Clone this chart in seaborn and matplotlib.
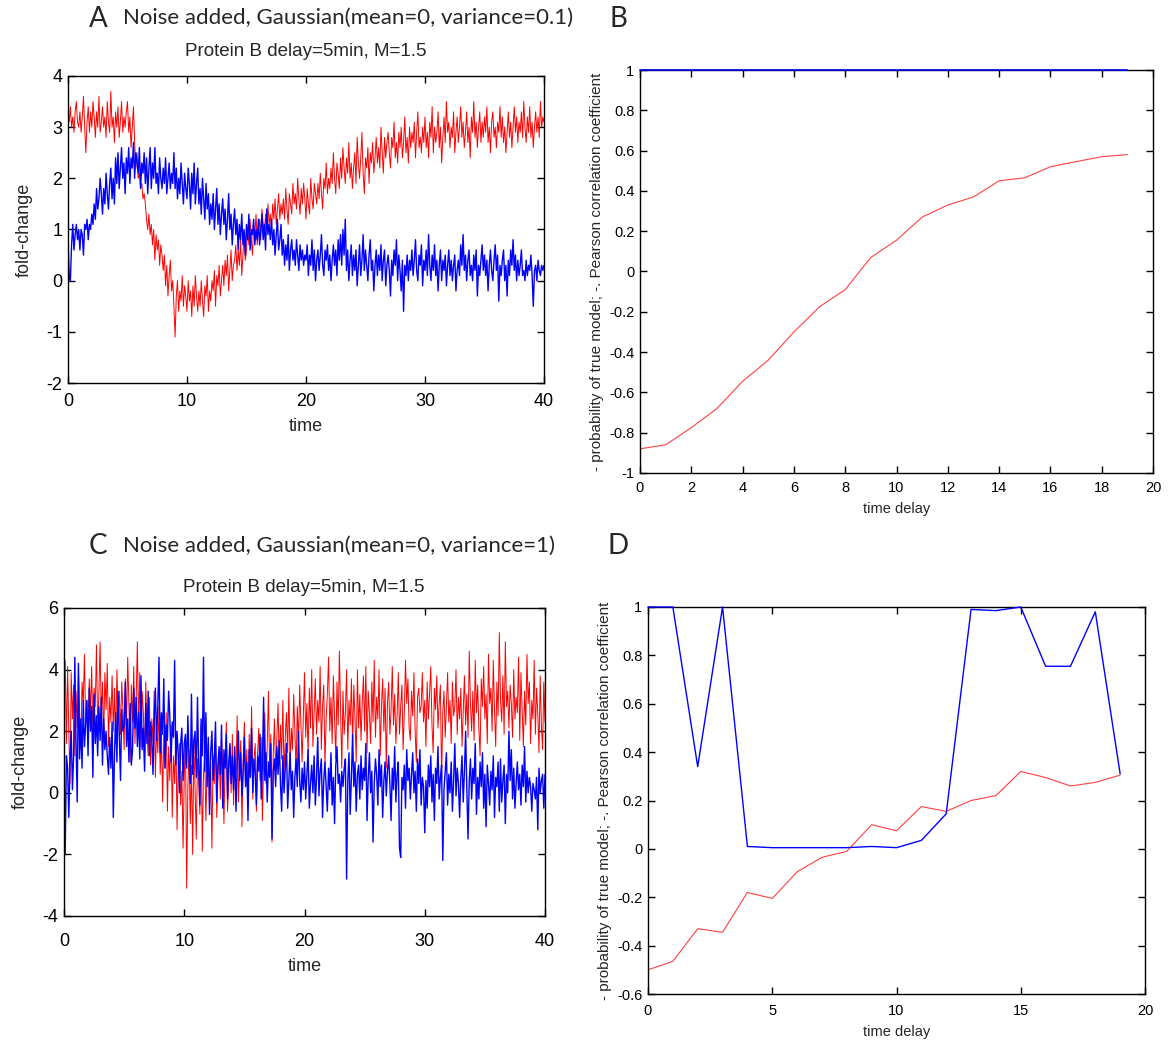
import numpy as np
import pandas as pd
import matplotlib
matplotlib.use("Agg")
import matplotlib.pyplot as plt
from matplotlib.ticker import FuncFormatter, MultipleLocator
import seaborn as sns

# ---------------------------------------------------------------- data
# sampling grid of the simulated time courses (0 .. 40, step 0.1)
time = np.round(np.arange(401) * 0.1, 1)

# low-noise run (variance 0.1): protein A (red) and protein B (blue)
red_low = [
    3.3, 3.1, 3.4, 3.0, 3.2, 2.9, 3.3, 3.5, 3.1, 3.0,
    3.3, 2.9, 3.2, 3.6, 3.0, 2.5, 3.1, 3.4, 2.9, 3.3,
    3.0, 3.5, 3.2, 2.8, 3.3, 3.0, 3.6, 2.9, 3.1, 3.4,
    3.0, 3.2, 2.8, 3.5, 3.1, 2.9, 3.7, 3.0, 3.2, 2.7,
    3.3, 3.0, 3.4, 2.8, 3.1, 3.5, 2.9, 3.2, 3.0, 3.3,
    3.5, 2.9, 3.2, 2.6, 3.0, 3.4, 2.7, 2.2, 2.5, 2.0,
    2.1, 1.8, 1.9, 1.6, 1.7, 1.5, 1.2, 1.0, 1.3, 0.9,
    1.1, 0.7, 1.0, 0.4, 0.9, 0.6, 0.8, 0.3, 0.7, 0.5,
    0.2, 0.5, -0.1, 0.3, -0.3, 0.1, 0.4, -0.2, 0.0, -0.5,
    -1.1, -0.3, 0.0, -0.6, -0.2, -0.4, 0.1, -0.5, -0.1, -0.3,
    -0.6, 0.0, -0.4, -0.2, -0.7, -0.1, -0.5, 0.1, -0.3, -0.6,
    -0.2, -0.5, 0.0, -0.4, -0.7, -0.1, -0.3, 0.1, -0.6, -0.2,
    -0.4, 0.0, -0.2, 0.2, -0.5, 0.1, -0.1, 0.3, -0.3, 0.0,
    0.3, -0.1, 0.4, 0.1, 0.5, -0.2, 0.2, 0.6, 0.0, 0.3,
    0.4, 0.7, 0.2, 0.6, 0.3, 0.8, 0.1, 0.5, 0.9, 0.4,
    0.6, 1.0, 0.7, 1.2, 0.8, 0.5, 1.1, 0.9, 1.3, 0.7,
    1.0, 1.2, 0.8, 1.4, 1.1, 0.9, 1.3, 1.0, 1.5, 1.1,
    1.3, 1.0, 1.5, 1.2, 1.6, 1.1, 1.4, 1.7, 1.2, 1.5,
    1.3, 1.6, 1.2, 1.8, 1.4, 1.1, 1.7, 1.5, 1.3, 1.9,
    1.5, 1.7, 1.4, 2.0, 1.6, 1.3, 1.8, 1.5, 1.9, 1.6,
    1.2, 1.8, 1.5, 1.3, 2.0, 1.6, 1.4, 1.9, 1.7, 1.5,
    1.9, 1.6, 2.1, 1.7, 1.4, 2.0, 1.8, 2.3, 1.7, 2.0,
    1.8, 2.2, 1.9, 2.5, 2.0, 1.7, 2.3, 2.1, 1.8, 2.4,
    2.0, 2.6, 2.2, 1.9, 2.4, 2.1, 2.7, 2.0, 2.3, 1.8,
    2.2, 2.5, 1.9, 2.8, 2.3, 2.0, 2.4, 2.9, 2.1, 1.7,
    2.4, 2.2, 2.6, 1.9, 2.5, 2.3, 2.7, 2.1, 2.4, 2.8,
    2.3, 2.6, 2.2, 3.0, 2.5, 2.1, 2.8, 2.4, 2.7, 2.9,
    2.5, 2.2, 2.8, 2.6, 3.1, 2.4, 2.7, 2.3, 2.9, 2.6,
    3.0, 2.4, 2.7, 3.2, 2.5, 2.8, 2.3, 3.0, 2.6, 2.9,
    2.7, 3.1, 2.4, 2.9, 3.3, 2.6, 2.8, 2.5, 3.0, 2.7,
    3.2, 2.6, 2.9, 2.4, 3.1, 2.8, 3.4, 2.5, 3.0, 2.7,
    2.9, 3.3, 2.6, 3.0, 2.3, 2.8, 3.2, 2.7, 3.5, 2.9,
    3.1, 2.6, 3.0, 2.8, 3.3, 2.5, 2.9, 3.2, 2.7, 3.0,
    3.4, 2.8, 3.1, 2.6, 2.9, 3.3, 2.7, 3.0, 2.4, 3.2,
    2.9, 3.5, 2.8, 3.1, 2.6, 3.0, 3.3, 2.7, 3.1, 2.8,
    3.2, 2.9, 3.4, 2.7, 3.0, 2.5, 3.1, 3.3, 2.8, 3.0,
    2.6, 3.1, 2.9, 3.4, 2.8, 3.2, 2.7, 3.0, 2.5, 2.9,
    3.3, 2.8, 3.1, 2.6, 3.0, 3.4, 2.9, 3.2, 2.7, 3.1,
    2.9, 3.3, 2.8, 3.5, 3.0, 2.7, 3.2, 2.9, 3.4, 2.8,
    3.1, 2.6, 3.0, 3.3, 2.9, 3.2, 2.8, 3.5, 3.0, 3.2,
    3.1,
]
blue_low = [
    0.8, 0.1, 0.0, 0.7, 1.1, 0.6, 0.9, 1.1, 0.8, 1.0,
    0.6, 1.0, 0.9, 0.5, 1.1, 1.0, 1.2, 0.8, 1.1, 1.0,
    1.3, 1.1, 1.5, 1.2, 1.8, 1.4, 1.6, 2.0, 1.7, 1.3,
    1.8, 1.5, 2.1, 1.7, 1.4, 1.9, 2.2, 1.6, 2.0, 1.5,
    2.4, 1.9, 2.5, 1.8, 2.2, 2.6, 2.0, 2.3, 1.7, 2.4,
    2.1, 2.6, 1.9, 2.4, 2.2, 2.7, 2.0, 2.5, 2.3, 2.1,
    2.6, 1.8, 2.3, 2.1, 2.5, 1.9, 2.4, 1.7, 2.2, 2.6,
    1.8, 2.3, 2.0, 2.6, 1.9, 2.1, 1.7, 2.4, 2.0, 1.8,
    2.2, 1.9, 2.4, 1.7, 2.0, 2.3, 1.8, 2.1, 1.9, 2.5,
    1.8, 2.2, 1.6, 2.0, 1.7, 2.3, 1.9, 1.5, 2.1, 1.8,
    1.6, 2.2, 1.9, 1.4, 2.1, 1.7, 2.3, 1.5, 1.9, 2.2,
    1.5, 1.8, 1.3, 2.0, 1.6, 1.2, 1.9, 1.4, 1.7, 1.1,
    1.5, 1.2, 1.7, 1.0, 1.4, 1.8, 1.1, 1.5, 0.9, 1.3,
    1.6, 1.1, 1.4, 0.8, 1.2, 1.7, 1.0, 1.3, 0.7, 1.1,
    1.4, 0.9, 1.2, 0.6, 1.1, 0.8, 1.3, 0.7, 1.0, 0.5,
    1.1, 0.8, 1.3, 0.6, 1.0, 0.9, 1.2, 0.7, 1.0, 0.8,
    1.2, 0.7, 1.0, 1.3, 0.8, 1.1, 0.6, 1.4, 0.9, 1.1,
    0.8, 1.2, 0.7, 1.0, 0.5, 0.9, 1.2, 0.6, 0.8, 1.1,
    0.5, 0.8, 0.3, 0.7, 0.4, 0.9, 0.2, 0.6, 0.8, 0.4,
    0.6, 0.3, 0.8, 0.5, 0.2, 0.7, 0.4, 0.6, 0.3, 0.5,
    0.4, 0.7, 0.1, 0.5, 0.3, 0.8, 0.2, 0.6, 0.0, 0.4,
    0.6, 0.2, 0.5, 0.9, 0.3, 0.1, 0.6, 0.4, 0.7, 0.2,
    0.5, 0.0, 0.4, 0.7, 0.3, 0.6, 0.1, 0.8, 0.4, 0.9,
    0.3, 1.0, 0.5, 1.2, 0.2, 0.6, 0.0, 0.4, 0.7, 0.1,
    0.5, 0.2, 0.6, -0.1, 0.3, 0.7, 0.1, 0.4, 0.9, 0.2,
    0.6, 0.3, 0.0, 0.5, 0.8, 0.2, 0.4, -0.2, 0.3, 0.6,
    0.1, 0.5, 0.2, 0.7, 0.0, 0.4, 0.6, -0.1, 0.3, 0.5,
    0.2, -0.3, 0.4, 0.1, 0.6, 0.3, 0.8, 0.0, 0.5, 0.2,
    -0.2, 0.4, -0.6, 0.3, 0.1, 0.5, 0.0, 0.4, 0.2, 0.6,
    0.1, 0.4, 0.8, 0.2, 0.0, 0.5, 0.3, 0.7, -0.1, 0.4,
    0.2, 0.6, 0.1, 0.9, 0.3, 0.0, 0.5, 0.2, 0.7, 0.1,
    0.4, -0.2, 0.3, 0.6, 0.0, 0.4, 0.2, 0.5, -0.1, 0.3,
    0.6, 0.1, 0.4, 0.0, 0.3, 0.5, -0.2, 0.2, 0.4, 0.1,
    0.7, 0.3, 0.9, 0.2, 0.5, 0.0, 0.4, 0.6, 0.1, 0.3,
    0.0, 0.5, 0.2, 0.6, -0.3, 0.3, 0.1, 0.4, 0.7, 0.2,
    0.5, 0.1, 0.4, -0.2, 0.3, 0.6, 0.2, 0.0, 0.4, 0.7,
    0.2, 0.5, -0.4, 0.3, 0.1, 0.4, 0.6, 0.0, 0.3, -0.3,
    0.4, 0.1, 0.6, 0.3, 0.8, 0.2, 0.5, 0.0, 0.4, 0.1,
    0.3, 0.6, 0.1, 0.2, 0.0, 0.4, 0.1, 0.3, 0.2, 0.5,
    0.1, -0.5, 0.2, 0.3, 0.0, 0.4, 0.2, 0.1, 0.3, 0.2,
    0.3,
]

# high-noise run (variance 1)
red_high = [
    3.2, 4.3, 1.6, 4.1, 2.0, 0.3, 3.9, 2.4, 3.5, 1.2,
    3.3, 2.1, 4.0, 2.6, 1.4, 3.6, 2.9, 4.5, 2.2, 3.0,
    1.8, 3.7, 2.5, 4.1, 1.9, 3.4, 2.8, 4.8, 2.0, 3.2,
    4.9, 2.4, 3.6, 1.7, 3.9, 2.7, 4.2, 1.5, 3.1, 2.3,
    3.8, 2.0, 3.4, 1.6, 4.0, 2.5, 3.3, 1.9, 3.6, 2.7,
    1.4, 3.7, 2.2, 4.4, 2.8, 1.0, 3.5, 2.3, 4.1, 1.6,
    3.0, 4.9, 2.1, 3.9, 1.5, 3.3, 2.6, 0.8, 3.6, 2.0,
    1.2, 3.1, 0.9, 2.4, 1.7, 3.3, 0.5, 2.2, 1.3, 2.8,
    0.6, 2.0, -0.3, 1.9, 0.8, 2.6, -0.6, 1.5, 0.4, 2.2,
    -0.8, 1.2, 0.3, 2.0, -1.2, 0.9, 1.6, -0.4, 0.7, -1.8,
    0.5, 1.8, -3.1, 0.2, 1.4, -1.0, 0.9, -2.0, 1.7, 0.1,
    -1.5, 1.1, 0.4, -0.7, 2.2, -1.9, 0.6, 1.3, -0.9, 0.8,
    1.6, -0.5, 0.9, -1.8, 1.2, 0.3, 2.0, -0.8, 0.5, 1.4,
    -0.2, 1.8, 0.7, -1.0, 1.1, 2.3, -0.6, 0.4, 1.5, 0.0,
    1.9, -0.4, 1.2, 0.6, 2.5, -0.3, 0.8, 1.7, -1.1, 1.0,
    2.3, 0.2, 1.4, -0.5, 1.9, 0.7, 2.8, -0.2, 1.1, 1.6,
    -0.6, 1.3, 2.1, 0.4, 1.8, -0.9, 1.0, 2.6, 0.3, 1.5,
    3.3, 0.8, 1.9, -1.6, 1.2, 2.4, 0.6, 1.7, 2.9, 0.9,
    2.2, 1.1, 3.0, 0.5, 1.8, 2.6, 1.3, 3.4, 0.9, 2.1,
    1.4, 3.2, 2.0, 0.7, 2.8, 1.6, 3.5, 2.3, 1.0, 2.5,
    3.9, 1.8, 2.9, 1.2, 3.4, 2.1, 4.0, 1.5, 2.6, 3.7,
    1.9, 3.0, 2.3, 4.1, 1.4, 2.8, 3.5, 0.9, 2.4, 3.2,
    4.4, 2.0, 3.1, 1.6, 3.8, 2.5, 1.1, 3.6, 2.2, 4.6,
    2.7, 0.8, 3.3, 1.9, 2.6, 4.0, 1.4, 3.0, 2.2, 3.7,
    1.5, 3.5, 2.4, 1.0, 4.0, 2.1, 3.2, 1.7, 2.9, 3.8,
    2.0, 4.1, 1.3, 3.3, 2.6, 1.6, 3.6, 2.3, 4.3, 1.8,
    3.1, 2.4, 4.0, 1.2, 2.8, 3.7, 2.0, 3.4, 0.8, 2.9,
    3.6, 1.9, 2.7, 4.1, 2.2, 3.2, 1.6, 2.5, 3.9, 1.9,
    2.8, 3.5, 1.4, 2.6, 4.3, 2.9, 3.7, 2.1, 1.7, 3.3,
    2.5, 3.9, 2.0, 1.0, 3.1, 3.4, 2.6, 2.8, 3.9, 2.3,
    3.0, 1.5, 3.6, 2.4, 3.2, 4.1, 2.2, 1.3, 3.4, 2.7,
    3.8, 2.1, 2.9, 3.5, 0.4, 2.6, 3.3, 1.8, 2.8, 3.9,
    2.3, 3.0, 1.6, 3.6, 2.5, 2.8, 4.0, 1.9, 3.1, 2.4,
    3.4, 1.5, 2.7, 3.8, 2.2, 3.2, 1.8, 4.6, 2.9, 2.0,
    3.3, 1.7, 4.3, 2.6, 3.5, 2.1, 1.2, 3.7, 2.8, 4.1,
    2.4, 3.2, 1.6, 4.5, 2.9, 3.4, 2.0, 4.3, 2.7, 1.5,
    3.6, 2.5, 5.2, 3.0, 2.3, 3.8, 1.9, 4.9, 2.8, 3.3,
    2.1, 3.5, 2.9, 1.8, 4.0, 2.4, 3.1, 2.6, 4.4, 1.7,
    3.9, 2.7, 1.5, 3.3, 2.2, 4.5, 2.9, 3.6, 1.6, 3.0,
    2.4, 4.3, 1.9, 3.4, 2.6, 1.3, 3.8, 2.2, 1.4, 3.6,
    2.3,
]
blue_high = [
    1.5, -2.0, 1.2, 0.8, -0.8, 1.0, 2.0, 0.1, 1.2, 4.4,
    1.6, -0.3, 4.2, 1.1, 2.4, 0.8, 3.0, 1.5, 2.2, 3.0,
    1.2, 3.4, 2.0, 2.8, 0.5, 3.2, 1.6, 2.5, 1.2, 2.8,
    1.7, 3.1, 0.9, 2.4, 1.4, 2.0, 1.2, 0.6, 1.8, 0.8,
    2.3, -0.8, 1.3, 2.6, 1.0, 3.3, 1.8, 0.4, 2.7, 2.0,
    2.2, 3.6, 1.5, 2.4, 1.0, 2.9, 0.9, 1.4, 3.4, 2.1,
    3.1, 1.5, 2.6, 1.1, 3.8, 1.4, 2.1, 0.7, 2.9, 1.6,
    3.3, 1.2, 2.3, 1.8, 0.6, 2.4, 3.4, 1.7, 2.8, 4.4,
    1.3, 2.6, 1.9, 3.7, 0.8, 2.2, 1.7, 3.3, 2.5, 1.0,
    2.3, 1.8, 4.3, 0.9, 2.0, 1.2, 0.0, 1.6, 2.1, 0.4,
    1.6, 1.9, 0.8, 2.5, 1.1, 0.3, 3.2, 0.6, 1.7, 2.0,
    0.5, 3.1, 1.0, -0.4, 2.4, 1.2, 4.4, 0.7, 2.6, 0.2,
    1.8, -0.7, 1.3, 2.0, 0.4, 1.1, 2.3, -0.3, 0.9, 1.5,
    0.6, 2.2, -0.5, 1.4, 0.8, 1.9, -0.2, 1.0, 1.6, 0.3,
    1.2, 0.1, 1.5, -0.6, 0.9, 2.0, 0.4, 1.3, -0.1, 0.7,
    1.8, 0.2, 1.0, -0.9, 1.4, 0.5, 2.1, 0.0, 1.1, 0.6,
    -0.4, 1.2, 0.7, 1.9, -0.2, 0.9, 3.1, 0.4, 1.3, -0.3,
    1.0, 0.5, 1.6, -1.5, 0.7, 1.1, 0.2, 1.5, 0.6, 1.7,
    0.3, -0.6, 1.2, 0.0, 0.8, 1.6, -0.5, 0.4, 1.3, 0.1,
    0.7, -0.8, 0.5, 1.1, 0.2, 2.0, 0.4, -0.3, 0.8, 0.1,
    1.0, -0.2, 0.6, 1.4, -0.5, 0.3, 0.9, 0.0, 1.2, -0.4,
    0.5, 1.8, -0.1, 0.7, 1.1, -0.8, 0.4, 1.0, 0.2, -0.6,
    0.8, 0.1, 1.3, -0.4, 0.5, -1.0, 0.9, 1.5, 0.3, 0.6,
    -0.3, 0.7, 0.2, 0.8, 1.1, -2.8, 0.4, 1.3, -0.7, 0.5,
    1.9, 0.2, 1.0, -0.6, 0.6, 0.9, -0.2, 1.2, 0.1, 0.8,
    0.4, 1.6, -0.9, 0.5, 1.3, 0.0, 0.7, -1.6, 0.3, 1.1,
    0.6, -0.4, 1.4, 0.2, 0.9, -0.8, 0.4, 1.0, -0.1, 0.7,
    1.2, 0.3, -0.9, 0.8, 0.1, 1.5, -0.3, 0.6, 1.0, -1.8,
    -2.1, 0.5, 0.1, 0.9, -0.5, 1.4, 0.4, 0.8, -0.2, 0.6,
    1.3, 0.0, 0.7, -0.6, 1.1, 0.3, 1.4, -0.4, 0.5, 0.2,
    -1.3, 0.4, -0.5, 0.9, 0.2, 1.2, -0.3, 0.6, -0.9, 0.8,
    0.3, 1.5, -0.2, 0.5, 0.9, -2.2, 0.1, 0.7, 1.3, -0.4,
    0.6, 0.0, 1.0, -0.6, 0.4, 1.6, -0.1, 0.8, 0.3, -0.8,
    0.5, 1.2, -0.3, 0.7, 2.0, 0.1, -1.5, 0.4, 1.1, -0.2,
    0.8, 0.3, 1.6, -0.7, 0.5, -0.2, 1.0, 0.2, 1.3, -0.5,
    0.6, -1.1, 0.9, 0.3, -0.4, 0.7, 0.1, 1.2, -0.8, 0.5,
    0.2, 1.0, -0.6, 1.1, -0.3, 0.4, 0.9, -1.0, 0.6, 0.0,
    2.0, 0.4, 1.4, -0.2, 0.8, -0.5, 0.3, 1.0, 0.1, 0.6,
    -0.4, 0.9, 0.2, 1.5, -0.3, 0.7, 0.0, 0.5, 0.2, -0.6,
    0.3, 0.1, -0.2, 0.5, -1.2, 0.8, 0.0, 0.4, 0.6, -0.5,
    0.6,
]

# scan over candidate delays: Pearson r (red) and -probability of true model (blue)
delays = list(range(20))
pearson_low = [-0.88, -0.86, -0.775, -0.68, -0.545, -0.44, -0.30, -0.175, -0.09, 0.07,
               0.155, 0.27, 0.33, 0.37, 0.45, 0.465, 0.52, 0.545, 0.57, 0.58]
prob_low = [1.0] * 20
pearson_high = [-0.50, -0.465, -0.33, -0.345, -0.18, -0.205, -0.095, -0.035, -0.01, 0.10,
                0.075, 0.175, 0.155, 0.20, 0.22, 0.32, 0.295, 0.26, 0.275, 0.305]
prob_high = [1.0, 1.0, 0.34, 1.0, 0.01, 0.005, 0.005, 0.005, 0.005, 0.01,
             0.005, 0.035, 0.145, 0.99, 0.985, 1.0, 0.755, 0.755, 0.98, 0.31]

# ---------------------------------------------------------------- style
sns.set_style("ticks", {"xtick.direction": "in", "ytick.direction": "in"})
plt.rcParams["font.family"] = ["Liberation Sans", "DejaVu Sans"]
plt.rcParams["axes.unicode_minus"] = False
plt.rcParams["axes.linewidth"] = 1.0
plt.rcParams["xtick.major.size"] = 5
plt.rcParams["ytick.major.size"] = 5
plt.rcParams["xtick.major.width"] = 1.0
plt.rcParams["ytick.major.width"] = 1.0
plt.rcParams["xtick.top"] = True
plt.rcParams["ytick.right"] = True

RED = "#ff0000"
BLUE = "#0000ff"
HEAD_FONT = ["Lato", "DejaVu Sans"]

fig = plt.figure(figsize=(11.68, 10.41), dpi=100)
W, H = 1168.0, 1041.0


def add_axes(x0, y0, x1, y1):
    """Axes from pixel box (left, top, right, bottom)."""
    return fig.add_axes([x0 / W, 1 - y1 / H, (x1 - x0) / W, (y1 - y0) / H])


fmt = FuncFormatter(lambda v, _: f"{round(v, 6):g}")


def style(ax, fs, xpad=4):
    ax.tick_params(which="major", direction="in", bottom=True, left=True,
                   top=True, right=True, length=5, width=1.0,
                   color="black", labelcolor="black", labelsize=fs, pad=4)
    ax.tick_params(axis="x", pad=xpad)
    for s in ax.spines.values():
        s.set_visible(True)
        s.set_color("black")
        s.set_linewidth(1.0)
    ax.xaxis.set_major_formatter(fmt)
    ax.yaxis.set_major_formatter(fmt)


def series_frame(x, a, b):
    return pd.DataFrame({"x": x, "red": a, "blue": b})


# ---------------------------------------------------------------- panel A
axA = add_axes(68, 76, 544, 383)
dA = series_frame(time, red_low, blue_low)
sns.lineplot(data=dA, x="x", y="red", ax=axA, color=RED, linewidth=0.7, estimator=None)
sns.lineplot(data=dA, x="x", y="blue", ax=axA, color=BLUE, linewidth=1.0, estimator=None)
axA.set_xlim(0, 40)
axA.set_ylim(-2, 4)
axA.xaxis.set_major_locator(MultipleLocator(10))
axA.yaxis.set_major_locator(MultipleLocator(1))
style(axA, 13, xpad=7)
axA.set_xlabel("time", fontsize=13, labelpad=6)
axA.set_ylabel("fold-change", fontsize=13, labelpad=10)

# ---------------------------------------------------------------- panel B
axB = add_axes(640, 70, 1153, 473)
dB = series_frame(delays, pearson_low, prob_low)
sns.lineplot(data=dB, x="x", y="red", ax=axB, color=RED, linewidth=0.8, alpha=0.75, estimator=None)
sns.lineplot(data=dB, x="x", y="blue", ax=axB, color=BLUE, linewidth=1.2,
             estimator=None, clip_on=False, zorder=5)
axB.set_xlim(0, 20)
axB.set_ylim(-1, 1)
axB.xaxis.set_major_locator(MultipleLocator(2))
axB.yaxis.set_major_locator(MultipleLocator(0.2))
style(axB, 10.5, xpad=6)
axB.set_xlabel("time delay", fontsize=10.5, labelpad=5)
axB.set_ylabel("- probability of true model; -. Pearson correlation coefficient",
               fontsize=11, labelpad=4)

# ---------------------------------------------------------------- panel C
axC = add_axes(64, 608, 545, 916)
dC = series_frame(time, red_high, blue_high)
sns.lineplot(data=dC, x="x", y="red", ax=axC, color=RED, linewidth=0.7, estimator=None)
sns.lineplot(data=dC, x="x", y="blue", ax=axC, color=BLUE, linewidth=1.0, estimator=None)
axC.set_xlim(0, 40)
axC.set_ylim(-4, 6)
axC.xaxis.set_major_locator(MultipleLocator(10))
axC.yaxis.set_major_locator(MultipleLocator(2))
style(axC, 13, xpad=12)
axC.set_xlabel("time", fontsize=13, labelpad=6)
axC.set_ylabel("fold-change", fontsize=13, labelpad=10)

# ---------------------------------------------------------------- panel D
axD = add_axes(648, 607, 1145, 994)
dD = series_frame(delays, pearson_high, prob_high)
sns.lineplot(data=dD, x="x", y="red", ax=axD, color=RED, linewidth=0.8, alpha=0.75, estimator=None)
sns.lineplot(data=dD, x="x", y="blue", ax=axD, color=BLUE, linewidth=1.0,
             estimator=None, clip_on=False, zorder=5)
axD.set_xlim(0, 20)
axD.set_ylim(-0.6, 1)
axD.xaxis.set_major_locator(MultipleLocator(5))
axD.yaxis.set_major_locator(MultipleLocator(0.2))
style(axD, 10.5, xpad=7)
axD.set_xlabel("time delay", fontsize=10.5, labelpad=5)
axD.set_ylabel("- probability of true model; -. Pearson correlation coefficient",
               fontsize=11, labelpad=4)

for ax in (axA, axB, axC, axD):
    leg = ax.get_legend()
    if leg is not None:
        leg.remove()

# ---------------------------------------------------------------- headings
fig.text(98 / W, 1 - 19 / H, "A", fontsize=20, family=HEAD_FONT, ha="center", va="center")
fig.text(123 / W, 1 - 18 / H, "Noise added, Gaussian(mean=0, variance=0.1)",
         fontsize=16, family=HEAD_FONT, ha="left", va="center")
fig.text(306 / W, 1 - 52 / H, "Protein B delay=5min, M=1.5", fontsize=13.5,
         ha="center", va="center")
fig.text(618 / W, 1 - 19 / H, "B", fontsize=20, family=HEAD_FONT, ha="center", va="center")

fig.text(98 / W, 1 - 546 / H, "C", fontsize=20, family=HEAD_FONT, ha="center", va="center")
fig.text(123 / W, 1 - 546 / H, "Noise added, Gaussian(mean=0, variance=1)",
         fontsize=16, family=HEAD_FONT, ha="left", va="center")
fig.text(304 / W, 1 - 588 / H, "Protein B delay=5min, M=1.5", fontsize=13.5,
         ha="center", va="center")
fig.text(618 / W, 1 - 546 / H, "D", fontsize=20, family=HEAD_FONT, ha="center", va="center")

fig.savefig("out.png", dpi=100, facecolor="white")
